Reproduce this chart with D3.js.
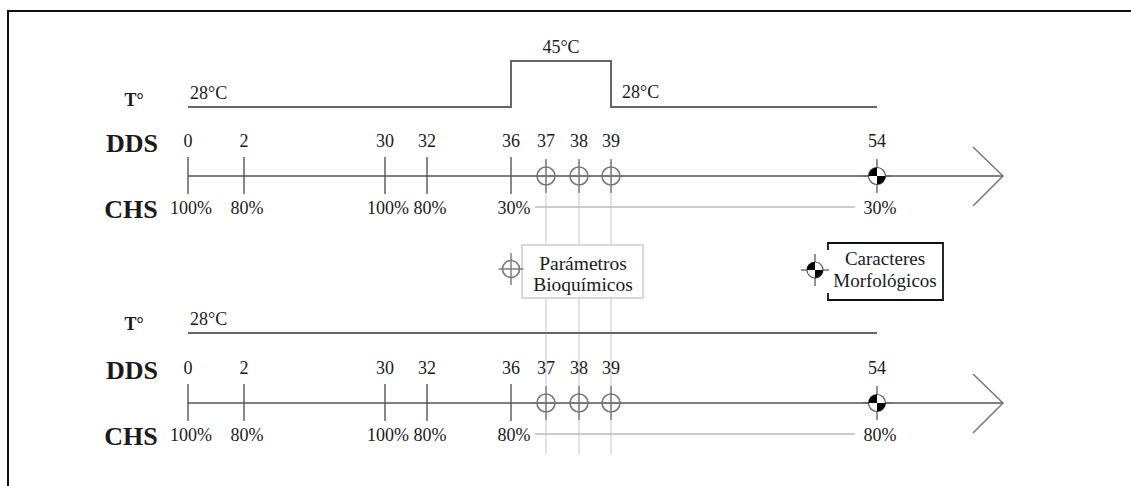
<!DOCTYPE html>
<html><head><meta charset="utf-8">
<script src="https://cdn.jsdelivr.net/npm/d3@7"></script>
<style>
html,body{margin:0;padding:0;background:#fff;}
svg{display:block;}
text{font-family:"Liberation Serif","Times New Roman",serif;fill:#1a1a1a;}
</style></head>
<body><svg id="c" width="1131" height="486"></svg>
<script>
// ---- data ----
const days = [0, 2, 30, 32, 36, 37, 38, 39, 54];
const tickDays = [0, 2, 30, 32, 36];
const sampleDays = [37, 38, 39];
const morphDays = [54];
const chsDays = [0, 2, 30, 32, 36, 54];
const chsTopLabels = ["100%", "80%", "100%", "80%", "30%", "30%"];
const chsBottomLabels = ["100%", "80%", "100%", "80%", "80%", "80%"];
const tempTopDays = [0, 36, 36, 39, 39, 54];
const tempTopValues = [28, 28, 45, 45, 28, 28];
const tempBottomDays = [0, 54];
const tempBottomValues = [28, 28];
const rowLabels = ["T°", "DDS", "CHS"];
const legendLabels = [["Parámetros", "Bioquímicos"], ["Caracteres", "Morfológicos"]];

// ---- layout ----
const svg = d3.select("#c");
const x = d3.scaleLinear().domain(days).range([188, 244, 385, 427, 511, 546, 579, 611, 877]);
const fmtT = v => v + "°C";

// frame (top and left edges)
svg.append("path").attr("d", "M8,486V11H1131").attr("fill", "none").attr("stroke", "#111").attr("stroke-width", 2);

// faint vertical guides through sampling days
svg.selectAll("line.guide").data(sampleDays).join("line")
  .attr("x1", d => x(d)).attr("x2", d => x(d)).attr("y1", 160).attr("y2", 455)
  .attr("stroke", "#d2d2d2").attr("stroke-width", 1.2);

function marker(g, cx, cy, type, r, arm) {
  const m = g.append("g").attr("transform", `translate(${cx},${cy})`);
  if (type === "bio") {
    m.append("circle").attr("r", r).attr("fill", "none").attr("stroke", "#777").attr("stroke-width", 1.6);
    m.append("line").attr("y1", -arm).attr("y2", arm).attr("stroke", "#777").attr("stroke-width", 1.4);
    m.append("line").attr("x1", -r - 4).attr("x2", r + 4).attr("stroke", "#777").attr("stroke-width", 1.4);
  } else {
    m.append("line").attr("y1", -arm).attr("y2", arm).attr("stroke", "#666").attr("stroke-width", 1.4);
    m.append("line").attr("x1", -r - 6).attr("x2", r + 6).attr("stroke", "#666").attr("stroke-width", 1.4);
    m.append("circle").attr("r", r).attr("fill", "#fff").attr("stroke", "#555").attr("stroke-width", 1.2);
    const arc = d3.arc().innerRadius(0).outerRadius(r);
    m.append("path").attr("d", arc({startAngle: -Math.PI / 2, endAngle: 0})).attr("fill", "#000");
    m.append("path").attr("d", arc({startAngle: Math.PI / 2, endAngle: Math.PI})).attr("fill", "#000");
  }
}

function panel(cfg) {
  const g = svg.append("g");
  const yT = d3.scaleLinear().domain([28, 45]).range([cfg.tLine, cfg.tLine - 46]);
  // row labels
  g.append("text").attr("x", 134).attr("y", cfg.tBase).attr("text-anchor", "middle")
    .attr("font-weight", "bold").attr("font-size", 18).text(rowLabels[0]);
  g.append("text").attr("x", 132).attr("y", cfg.axis - 24).attr("text-anchor", "middle")
    .attr("font-weight", "bold").attr("font-size", 26).text(rowLabels[1]);
  g.append("text").attr("x", 131).attr("y", cfg.axis + 42).attr("text-anchor", "middle")
    .attr("font-weight", "bold").attr("font-size", 26).text(rowLabels[2]);
  // temperature line
  const line = d3.line().x((d, i) => x(cfg.tDays[i])).y(d => yT(d));
  g.append("path").attr("d", line(cfg.tVals)).attr("fill", "none").attr("stroke", "#666").attr("stroke-width", 2);
  // temperature labels
  g.append("text").attr("x", x(cfg.tDays[0]) + 2).attr("y", cfg.tLine - 8).attr("font-size", 18).text(fmtT(cfg.tVals[0]));
  if (cfg.tVals.length > 2) {
    g.append("text").attr("x", (x(cfg.tDays[2]) + x(cfg.tDays[3])) / 2).attr("y", yT(45) - 8)
      .attr("text-anchor", "middle").attr("font-size", 18).text(fmtT(cfg.tVals[2]));
    g.append("text").attr("x", x(cfg.tDays[4]) + 11).attr("y", cfg.tLine - 9).attr("font-size", 18).text(fmtT(cfg.tVals[4]));
  }
  // axis + arrow
  const tip = x(54) + 126;
  g.append("line").attr("x1", x(0)).attr("x2", tip).attr("y1", cfg.axis).attr("y2", cfg.axis)
    .attr("stroke", "#555").attr("stroke-width", 1.5);
  g.append("path").attr("d", `M${tip - 30},${cfg.axis - 29}L${tip},${cfg.axis}L${tip - 30},${cfg.axis + 30}`)
    .attr("fill", "none").attr("stroke", "#777").attr("stroke-width", 1.5);
  // ticks
  g.selectAll("line.tick").data(tickDays).join("line")
    .attr("x1", d => x(d)).attr("x2", d => x(d)).attr("y1", cfg.axis - 19).attr("y2", cfg.axis + 18)
    .attr("stroke", "#555").attr("stroke-width", 1.4);
  // day labels
  g.selectAll("text.day").data(days).join("text")
    .attr("x", d => x(d)).attr("y", cfg.axis - 29).attr("text-anchor", "middle")
    .attr("font-size", 18).text(d => d);
  // CHS labels
  g.selectAll("text.chs").data(chsDays).join("text")
    .attr("x", d => x(d) + 3).attr("y", cfg.axis + 38).attr("text-anchor", "middle")
    .attr("font-size", 18).text((d, i) => cfg.chs[i]);
  // CHS stress line
  g.append("line").attr("x1", x(36) + 24).attr("x2", x(54) - 22)
    .attr("y1", cfg.axis + 31).attr("y2", cfg.axis + 31).attr("stroke", "#bbb").attr("stroke-width", 1.5);
  // markers
  sampleDays.forEach(d => marker(g, x(d), cfg.axis, "bio", 9, 17));
  morphDays.forEach(d => marker(g, x(d), cfg.axis, "morph", 8.5, 17));
}

panel({tLine: 107, tBase: 106, axis: 176, tDays: tempTopDays, tVals: tempTopValues, chs: chsTopLabels});
panel({tLine: 333, tBase: 330, axis: 403, tDays: tempBottomDays, tVals: tempBottomValues, chs: chsBottomLabels});

// legend
const lg = svg.append("g");
lg.append("rect").attr("x", 522).attr("y", 245).attr("width", 121).attr("height", 53)
  .attr("fill", "#fff").attr("stroke", "#ccc").attr("stroke-width", 1.5);
marker(lg, 511, 269, "bio", 8.5, 16);
lg.selectAll("text.l1").data(legendLabels[0]).join("text")
  .attr("x", 583).attr("y", (d, i) => 270 + i * 21).attr("text-anchor", "middle").attr("font-size", 19.5).text(d => d);

lg.append("rect").attr("x", 828).attr("y", 243).attr("width", 115).attr("height", 57)
  .attr("fill", "#fff").attr("stroke", "none");
lg.append("path").attr("d", "M828,250V243H943V300H828V293").attr("fill", "none").attr("stroke", "#111").attr("stroke-width", 1.8);
marker(lg, 815, 270, "morph", 8, 16);
lg.selectAll("text.l2").data(legendLabels[1]).join("text")
  .attr("x", 885).attr("y", (d, i) => 265 + i * 22).attr("text-anchor", "middle").attr("font-size", 19).text(d => d);
</script>
</body></html>
